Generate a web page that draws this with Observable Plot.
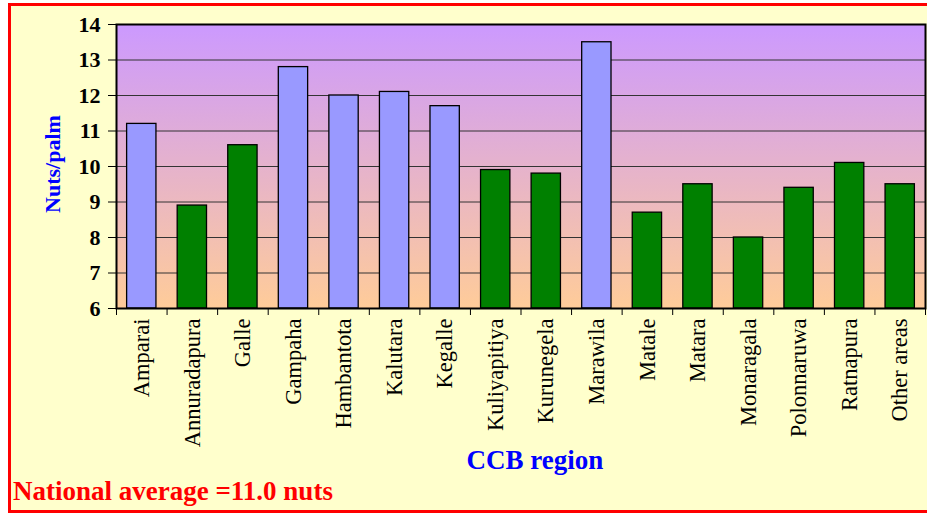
<!DOCTYPE html>
<html>
<head>
<meta charset="utf-8">
<script src="https://cdn.jsdelivr.net/npm/d3@7"></script>
<script src="https://cdn.jsdelivr.net/npm/@observablehq/plot@0.6"></script>
<style>
  html, body { margin: 0; padding: 0; background: #ffffff; overflow: hidden; width: 927px; height: 514px; }
  #box { position: absolute; left: 8px; top: 3px; width: 1000px; height: 510px; box-sizing: border-box;
         border: 3px solid #ff0000; background: #ffffcc; }
  #chart { position: absolute; left: 0; top: 0; }
  .lbl { position: absolute; font-family: "Liberation Serif", "Times New Roman", serif; font-weight: bold; white-space: nowrap; }
  #ylabel { color: #0000ff; font-size: 22px; left: 53px; top: 164px; transform: translate(-50%, -50%) rotate(-90deg); }
  #xlabel { color: #0000ff; font-size: 27px; left: 535px; top: 460px; transform: translate(-50%, -50%); }
  #note { color: #ff0000; font-size: 27px; left: 13px; top: 491px; transform: translate(0, -50%); }
</style>
</head>
<body>
<div id="box"></div>
<div id="chart"></div>
<div class="lbl" id="ylabel">Nuts/palm</div>
<div class="lbl" id="xlabel">CCB region</div>
<div class="lbl" id="note">National average =11.0 nuts</div>
<script>
const regions = ["Amparai", "Annuradapura", "Galle", "Gampaha", "Hambantota", "Kalutara", "Kegalle",
  "Kuliyapitiya", "Kurunegela", "Marawila", "Matale", "Matara", "Monaragala", "Polonnaruwa", "Ratnapura", "Other areas"];
const nutsPerPalm = [11.2, 8.9, 10.6, 12.8, 12.0, 12.1, 11.7, 9.9, 9.8, 13.5, 8.7, 9.5, 8.0, 9.4, 10.1, 9.5];
const nationalAverage = 11.0;
const yTicks = [6, 7, 8, 9, 10, 11, 12, 13, 14];
const gridValues = [7, 8, 9, 10, 11, 12, 13];

const data = regions.map((r, i) => ({region: r, value: nutsPerPalm[i]}));

const W = 927, H = 514;
const mLeft = 116, mRight = 2, mTop = 24, mBottom = 206;
const step = (W - mLeft - mRight) / regions.length;
const frameH = H - mTop - mBottom;
const font = "Liberation Serif, Times New Roman, serif";

const defs = () => {
  const d = d3.create("svg:defs");
  const g = d.append("linearGradient").attr("id", "bgGrad").attr("x1", 0).attr("y1", 0).attr("x2", 0).attr("y2", 1);
  g.append("stop").attr("offset", "0%").attr("stop-color", "#cc99ff");
  g.append("stop").attr("offset", "100%").attr("stop-color", "#ffcc99");
  return d.node();
};

const plot = Plot.plot({
  width: W, height: H,
  marginLeft: mLeft, marginRight: mRight, marginTop: mTop, marginBottom: mBottom,
  style: {background: "transparent", fontFamily: font, color: "#000"},
  x: {domain: regions, paddingInner: 0.42, paddingOuter: 0.21, align: 0.5, round: false},
  y: {domain: [6, 14]},
  marks: [
    defs,
    Plot.frame({fill: "url(#bgGrad)", stroke: "none"}),
    Plot.ruleY(gridValues, {stroke: "#333333", strokeWidth: 1}),
    Plot.barY(data, {x: "region", y1: 6, y2: "value",
      fill: d => d.value > nationalAverage ? "#9999ff" : "#008000",
      stroke: "#000", strokeWidth: 1.3}),
    Plot.axisY({ticks: yTicks, tickSize: 8, tickPadding: 8, fontSize: 22, fontWeight: "bold",
      fontFamily: font, label: null, tickFormat: d => String(d)}),
    Plot.axisX({tickRotate: -90, tickSize: 0, tickPadding: 10, fontSize: 22.5, fontFamily: font, label: null}),
    Plot.ruleX(regions, {x: d => d, dx: -step / 2, insetTop: frameH, insetBottom: -7, stroke: "#000", strokeWidth: 1}),
    Plot.ruleX(regions.slice(-1), {x: d => d, dx: step / 2, insetTop: frameH, insetBottom: -7, stroke: "#000", strokeWidth: 1}),
    Plot.frame({stroke: "#000", strokeWidth: 2})
  ]
});
document.getElementById("chart").appendChild(plot);
</script>
</body>
</html>
